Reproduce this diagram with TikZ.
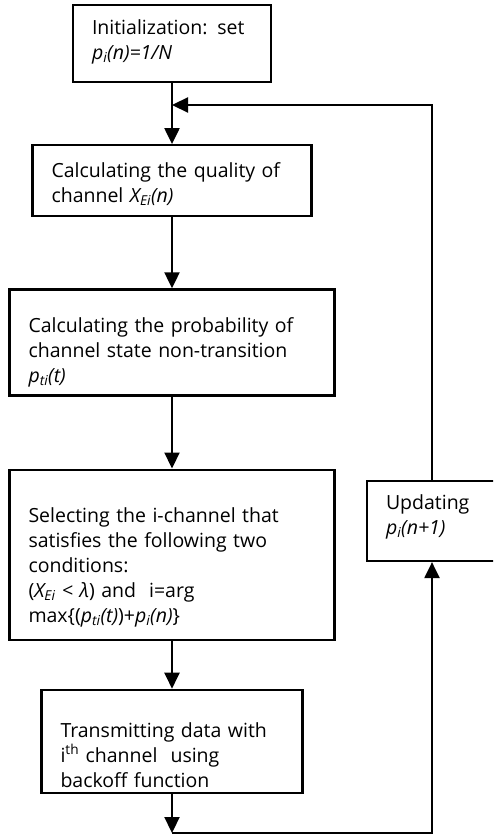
\documentclass[tikz,border=0pt]{standalone}
\usepackage{fontspec}
\setmainfont{Open Sans}
\usetikzlibrary{positioning,arrows.meta}

\tikzset{
  box/.style={draw, line width=2.2pt, inner xsep=19pt, inner ysep=0pt,
    align=left, font=\fontsize{19.5}{25}\selectfont},
  lower/.style={execute at begin node={\rule{0pt}{\dimexpr 18pt+#1\relax}}},
  raise/.style={execute at end node={\rule[-#1]{0pt}{0pt}}},
  flow/.style={line width=2.2pt, -{Triangle[width=15pt,length=16pt]}},
}

\begin{document}
\begin{tikzpicture}[x=1pt,y=-1pt]
\useasboundingbox (0,0) rectangle (493,837);
\clip (0,0) rectangle (493,837);

\node(init)	[box, raise=8pt, text width=160pt, minimum height=77pt] at (172,43.5)
{Initialization: set\\ \textit{p\textsubscript{i}(n)=1/N}};
\node(quality)	[box, lower=3pt, text width=241pt, minimum height=71pt, below=61pt of init]
{Calculating the quality of\\ channel \textit{X\textsubscript{Ei}(n)}};
\node(prob)	[box, lower=16pt, text width=287pt, minimum height=106pt, below=71pt of quality]
{Calculating the probability of\\ channel state non-transition\\ \textit{p\textsubscript{ti}(t)}};
\node(select)	[box, lower=23pt, text width=287pt, minimum height=170pt, below=72pt of prob]
{Selecting the i-channel that\\ satisfies the following two\\ conditions:\\
(\textit{X\textsubscript{Ei} < λ}) and\ \ i=arg\\
max\{(\textit{p\textsubscript{ti}(t)})+\textit{p\textsubscript{i}(n)}\}};
\node(transmit)	[box, lower=24pt, text width=223pt, minimum height=103pt, below=48pt of select]
{Transmitting data with\\ i\textsuperscript{th} channel\ \ using\\ backoff function};
\node(update)	[box, raise=13pt, text width=92pt, minimum height=80pt] at (432,521)
{Updating\\ \textit{p\textsubscript{i}(n+1)}};

\coordinate(join)   at (172,105);
\coordinate(bottom) at (172,833);

\draw[flow] (init)     -- (quality);
\draw[flow] (quality)  -- (prob);
\draw[flow] (prob)     -- (select);
\draw[flow] (select)   -- (transmit);
\draw[flow] (transmit) -- (bottom);
\draw[flow] (bottom)   -| (update);
\draw[flow] (update)   |- (join);
\end{tikzpicture}
\end{document}
